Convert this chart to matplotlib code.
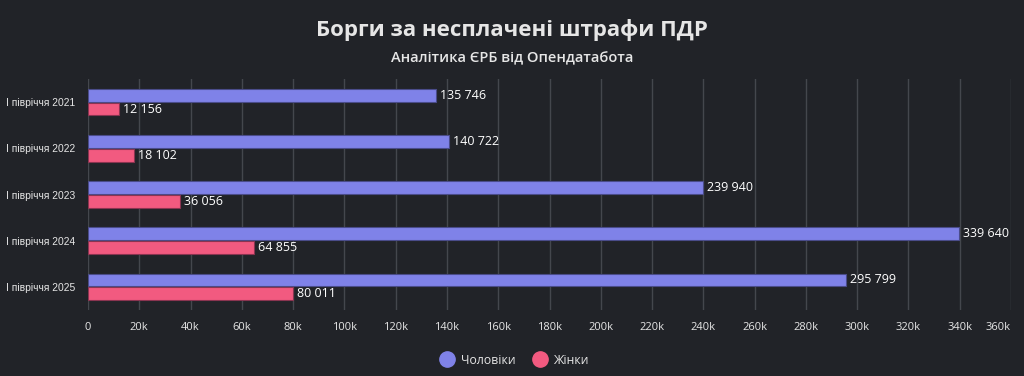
import matplotlib
matplotlib.use("Agg")
import matplotlib.pyplot as plt
import numpy as np
from matplotlib.lines import Line2D

plt.rcParams['font.family'] = ['Open Sans', 'DejaVu Sans']

categories = ["I півріччя 2021", "I півріччя 2022", "I півріччя 2023", "I півріччя 2024", "I півріччя 2025"]
men = [135746, 140722, 239940, 339640, 295799]
women = [12156, 18102, 36056, 64855, 80011]
series_names = ["Чоловіки", "Жінки"]
x_ticks = list(range(0, 360001, 20000))

bg = "#212328"
c_men = "#7f82e8"
c_women = "#f25a80"
txt = "#e6e6e6"

fig = plt.figure(figsize=(10.24, 3.76), dpi=100, facecolor=bg)
ax = fig.add_axes([88/1024, 1-310/376, (1011-88)/1024, (310-79)/376])
ax.set_facecolor(bg)

y = np.arange(len(categories))
h = 0.28
b1 = ax.barh(y - h/2 - 0.01, men, height=h, color=c_men, edgecolor="#4a4c8a", linewidth=0.8, zorder=3)
b2 = ax.barh(y + h/2 + 0.01, women, height=h, color=c_women, edgecolor="#8a3450", linewidth=0.8, zorder=3)

def fmt(v):
    return f"{v:,}".replace(",", " ")

for bars, vals in ((b1, men), (b2, women)):
    for rect, v in zip(bars, vals):
        ax.text(rect.get_width() + 1500, rect.get_y() + rect.get_height()/2, fmt(v),
                color="white", fontsize=9, fontweight="medium", va="center", ha="left", zorder=4)

ax.set_xlim(0, 360000)
ax.set_ylim(len(categories) - 0.5, -0.5)
ax.set_xticks(x_ticks)
ax.set_xticklabels(["0" if v == 0 else f"{v//1000}k" for v in x_ticks])
ax.get_xticklabels()[-1].set_ha("right")
ax.set_yticks(y)
ax.set_yticklabels(categories, family=['Liberation Sans', 'DejaVu Sans'], fontsize=7.4)
ax.tick_params(axis="x", colors=txt, labelsize=8, length=0, pad=9)
ax.tick_params(axis="y", colors=txt, length=0, pad=9)
ax.grid(axis="x", color="#44474d", linewidth=1, zorder=0)
for s in ax.spines.values():
    s.set_visible(False)

fig.text(0.5, 1-30/376, "Борги за несплачені штрафи ПДР", ha="center", va="center",
         color=txt, fontsize=16, fontweight="bold")
fig.text(0.5, 1-58/376, "Аналітика ЄРБ від Опендатабота", ha="center", va="center",
         color=txt, fontsize=10.5, fontweight="semibold")

handles = [Line2D([0], [0], marker="o", linestyle="", markersize=11, markerfacecolor=c, markeredgecolor=c)
           for c in (c_men, c_women)]
leg = fig.legend(handles, series_names, loc="center", bbox_to_anchor=(0.5, 1-360/376), ncol=2,
                 frameon=False, fontsize=8.8, labelcolor=txt, handletextpad=0.1, columnspacing=1.0)

fig.savefig("out.png", dpi=100, facecolor=bg)
